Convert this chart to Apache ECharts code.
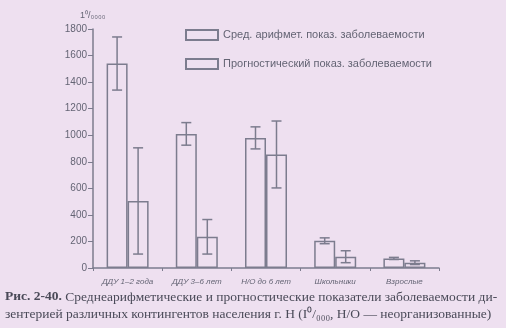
<!DOCTYPE html>
<html><head><meta charset="utf-8">
<script src="https://cdn.jsdelivr.net/npm/echarts@6/dist/echarts.min.js"></script>
<style>html,body{margin:0;padding:0;background:#eee0f0;}#c{width:506px;height:328px;}</style>
</head><body><div id="c"></div>
<script>
const categories = ['ДДУ 1–2 года', 'ДДУ 3–6 лет', 'Н/О до 6 лет', 'Школьники', 'Взрослые'];
const seriesNames = ['Сред. арифмет. показ. заболеваемости', 'Прогностический показ. заболеваемости'];
const meanValues = [1540, 1010, 980, 205, 72];
const meanErrors = [200, 85, 83, 22, 8];
const progValues = [505, 235, 855, 85, 40];
const progErrors = [400, 130, 252, 45, 14];
const yTicks = [0, 200, 400, 600, 800, 1000, 1200, 1400, 1600, 1800];

const line = '#7c7c8e';
const txt = '#646474';
const BW = 21;
const chart = echarts.init(document.getElementById('c'));

function errSeries(vals, errs, side) {
  return {
    type: 'custom',
    silent: true,
    z: 5,
    data: vals.map((v, i) => [i, v, errs[i]]),
    renderItem: function (params, api) {
      const i = api.value(0), v = api.value(1), e = api.value(2);
      const top = api.coord([i, v + e]);
      const bot = api.coord([i, v - e]);
      const x = top[0] + side * BW / 2;
      const cap = 5;
      const st = { stroke: line, lineWidth: 1.5 };
      return { type: 'group', children: [
        { type: 'line', shape: { x1: x, y1: top[1], x2: x, y2: bot[1] }, style: st },
        { type: 'line', shape: { x1: x - cap, y1: top[1], x2: x + cap, y2: top[1] }, style: st },
        { type: 'line', shape: { x1: x - cap, y1: bot[1], x2: x + cap, y2: bot[1] }, style: st }
      ]};
    }
  };
}

chart.setOption({
  backgroundColor: '#eee0f0',
  animation: false,
  grid: { left: 93, right: 67, top: 29, bottom: 60 },
  legend: {
    orient: 'vertical', left: 180, top: 24, itemGap: 17,
    itemWidth: 32, itemHeight: 10, icon: 'rect',
    textStyle: { color: txt, fontSize: 11, fontFamily: 'Liberation Sans' },
    data: seriesNames
  },
  xAxis: {
    type: 'category', data: categories,
    axisLine: { lineStyle: { color: line, width: 1.5 } },
    axisTick: { show: true, length: 3, lineStyle: { color: line } },
    axisLabel: { color: txt, fontSize: 8, fontStyle: 'italic', fontFamily: 'Liberation Sans', margin: 10 }
  },
  yAxis: {
    type: 'value', min: 0, max: 1800, interval: 200,
    name: '1⁰/₀₀₀₀', nameGap: 9,
    nameTextStyle: { color: txt, fontSize: 9, fontFamily: 'Liberation Sans', align: 'left', padding: [0, 0, 0, -13] },
    axisLine: { show: true, lineStyle: { color: line, width: 1.5 } },
    axisTick: { show: true, length: 5, lineStyle: { color: line } },
    splitLine: { show: false },
    axisLabel: { color: txt, fontSize: 10, fontFamily: 'Liberation Sans', margin: 6,
      formatter: v => yTicks.includes(v) ? String(v) : '' }
  },
  series: [
    { name: seriesNames[0], type: 'bar', data: meanValues, barWidth: BW, barGap: '0%',
      itemStyle: { color: 'rgba(238,224,240,0)', borderColor: line, borderWidth: 1.5 } },
    { name: seriesNames[1], type: 'bar', data: progValues, barWidth: BW, barGap: '0%',
      itemStyle: { color: 'rgba(238,224,240,0)', borderColor: line, borderWidth: 1.5 } },
    errSeries(meanValues, meanErrors, -1),
    errSeries(progValues, progErrors, 1)
  ],
  graphic: [
    { type: 'text', left: 5, top: 290, style: {
      text: '{b|Рис. 2-40.} Среднеарифметические и прогностические показатели заболеваемости ди-',
      font: '13.5px "Liberation Serif"', fill: '#4a4a58',
      rich: { b: { fontWeight: 'bold', fontSize: 13.5, fontFamily: 'Liberation Serif', fill: '#4a4a58' } } } },
    { type: 'text', left: 5, top: 307, style: {
      text: 'зентерией различных контингентов населения г. Н (I⁰/₀₀₀, Н/О — неорганизованные)',
      font: '13.5px "Liberation Serif"', fill: '#4a4a58' } }
  ]
});
</script></body></html>
